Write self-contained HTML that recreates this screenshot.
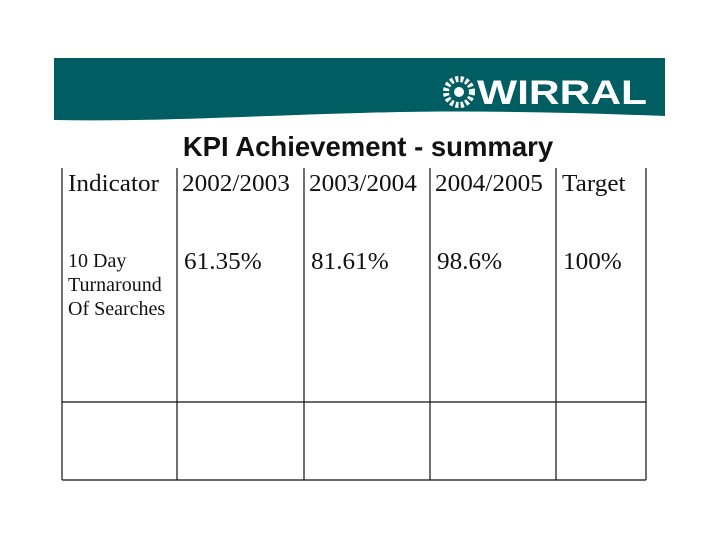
<!DOCTYPE html>
<html><head><meta charset="utf-8"><style>
body{margin:0;width:720px;height:540px;background:#fff;overflow:hidden;position:relative;font-family:"Liberation Serif",serif}
.t{position:absolute;color:#111;white-space:nowrap}
</style></head><body>
<svg width="720" height="540" style="position:absolute;left:0;top:0">
<path d="M54 58 H665 V116 C560 112 460 110 360 113 C250 116 150 122 54 120 Z" fill="#005d61"/>
<g fill="#fff" transform="translate(459,92)">
<circle r="13" fill="none" stroke="#fff" stroke-width="6" stroke-dasharray="3 2.2"/>
<circle r="5"/>
</g>
<text x="477" y="104" font-family="Liberation Sans" font-weight="bold" font-size="34" fill="#fff" textLength="170" lengthAdjust="spacingAndGlyphs">WIRRAL</text>
<g stroke="#111" stroke-width="1.2">
<line x1="62" y1="168" x2="62" y2="480"/>
<line x1="177" y1="168" x2="177" y2="480"/>
<line x1="304" y1="168" x2="304" y2="480"/>
<line x1="430" y1="168" x2="430" y2="480"/>
<line x1="556" y1="168" x2="556" y2="480"/>
<line x1="646" y1="168" x2="646" y2="480"/>
<line x1="62" y1="402" x2="646" y2="402"/>
<line x1="62" y1="480" x2="646" y2="480"/>
</g>
</svg>
<div class="t" style="left:0;width:736px;text-align:center;top:131px;font:bold 27.5px 'Liberation Sans',sans-serif">KPI Achievement - summary</div>
<div class="t" style="left:68px;top:171px;font-size:24px;transform:scaleX(1.05);transform-origin:left">Indicator</div>
<div class="t" style="left:182px;top:171px;font-size:24px;transform:scaleX(1.05);transform-origin:left">2002/2003</div>
<div class="t" style="left:309px;top:171px;font-size:24px;transform:scaleX(1.05);transform-origin:left">2003/2004</div>
<div class="t" style="left:435px;top:171px;font-size:24px;transform:scaleX(1.05);transform-origin:left">2004/2005</div>
<div class="t" style="left:562px;top:171px;font-size:24px;transform:scaleX(1.05);transform-origin:left">Target</div>
<div class="t" style="left:68px;top:249px;font-size:20px;line-height:24px">10 Day<br>Turnaround<br>Of Searches</div>
<div class="t" style="left:184px;top:249px;font-size:24px;transform:scaleX(1.05);transform-origin:left">61.35%</div>
<div class="t" style="left:311px;top:249px;font-size:24px;transform:scaleX(1.05);transform-origin:left">81.61%</div>
<div class="t" style="left:437px;top:249px;font-size:24px;transform:scaleX(1.05);transform-origin:left">98.6%</div>
<div class="t" style="left:563px;top:249px;font-size:24px;transform:scaleX(1.05);transform-origin:left">100%</div>
</body></html>
